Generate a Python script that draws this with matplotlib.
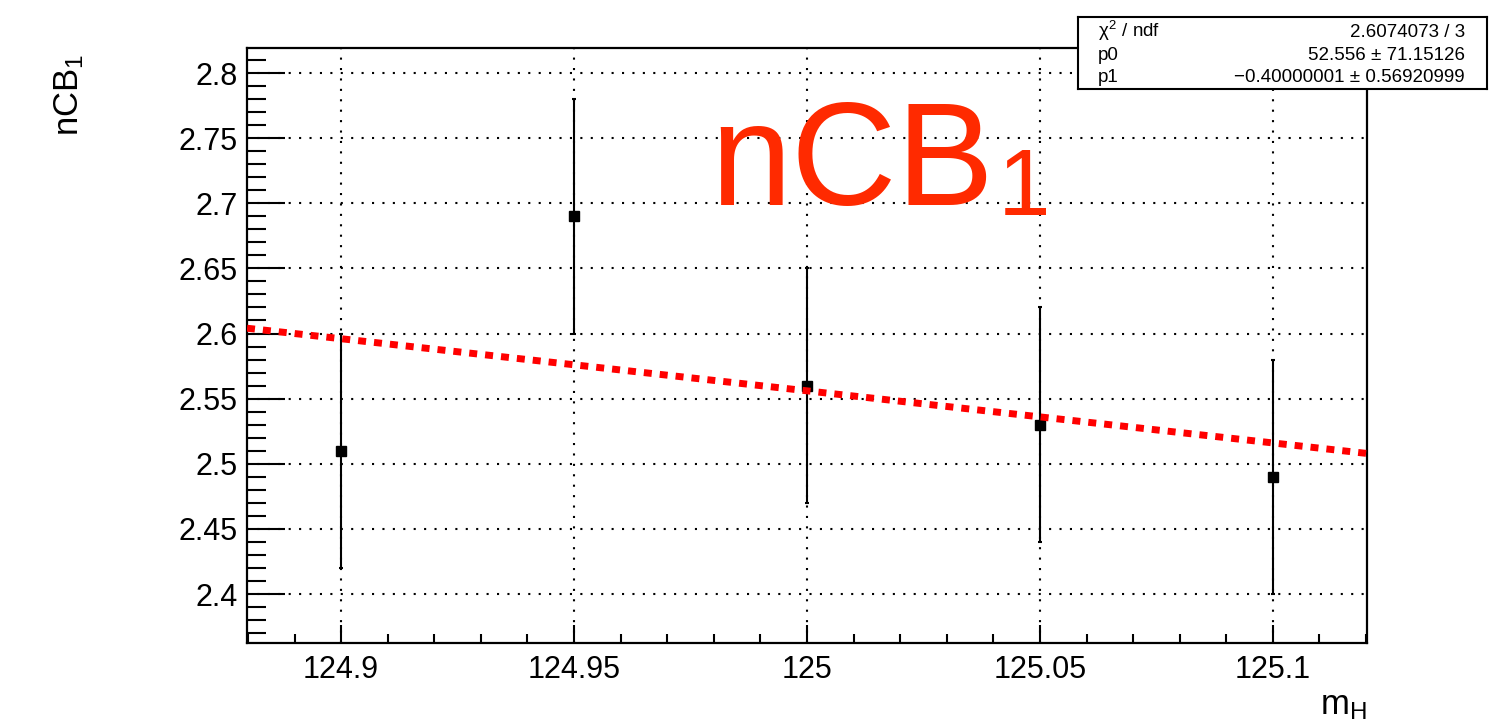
import matplotlib.pyplot as plt
from matplotlib.ticker import MultipleLocator

plt.rcParams['font.family'] = ['Liberation Sans', 'DejaVu Sans']
plt.rcParams['mathtext.fontset'] = 'custom'
plt.rcParams['mathtext.rm'] = 'Liberation Sans'
plt.rcParams['mathtext.it'] = 'Liberation Sans'

# data
mass = [124.9, 124.95, 125.0, 125.05, 125.1]
ncb1 = [2.51, 2.69, 2.56, 2.53, 2.49]
ncb1_err = [0.09, 0.09, 0.09, 0.09, 0.09]

# fit results (pol1)
p0 = 52.556
p1 = -0.40000001
stat_names = [r'$\chi^{2}$ / ndf', 'p0', 'p1']
stat_values = ['2.6074073 / 3', '52.556 \u00b1 71.15126', '\u22120.40000001 \u00b1 0.56920999']

xlim = (124.8798, 125.1202)
ylim = (2.3624, 2.8192)

W, H = 1511, 724
fig = plt.figure(figsize=(W / 100, H / 100), dpi=100)
ax = fig.add_axes([247 / W, 81 / H, 1120 / W, 595 / H])

ax.errorbar(mass, ncb1, yerr=ncb1_err, fmt='s', color='black', ms=7,
            elinewidth=1.5, capsize=1.5, capthick=1.5, zorder=3)

fx = [xlim[0], xlim[1]]
fy = [p0 + p1 * v for v in fx]
ax.plot(fx, fy, color='#ff0000', lw=5, dashes=(1.15, 1.15),
        solid_capstyle='butt', dash_capstyle='butt', zorder=4)

ax.set_xlim(*xlim)
ax.set_ylim(*ylim)
ax.xaxis.set_minor_locator(MultipleLocator(0.01))
ax.yaxis.set_minor_locator(MultipleLocator(0.01))
ax.set_xticks([124.9, 124.95, 125.0, 125.05, 125.1])
ax.set_xticklabels(['124.9', '124.95', '125', '125.05', '125.1'])
ax.set_yticks([2.4, 2.45, 2.5, 2.55, 2.6, 2.65, 2.7, 2.75, 2.8])
ax.set_yticklabels(['2.4', '2.45', '2.5', '2.55', '2.6', '2.65', '2.7', '2.75', '2.8'])

ax.tick_params(axis='both', which='both', direction='in', top=False, right=False,
               labelsize=22, width=1.5)
ax.tick_params(axis='y', which='major', length=27, pad=7)
ax.tick_params(axis='y', which='minor', length=13.5)
ax.tick_params(axis='x', which='major', length=13, pad=9)
ax.tick_params(axis='x', which='minor', length=6.5)

ax.grid(True, which='major', color='black', linestyle=(0, (1, 4)), lw=1.5)
for s in ax.spines.values():
    s.set_linewidth(1.6)

# big red label, subscript drawn as its own text
red = '#ff2a00'
fig.text(710 / W, 1 - 205 / H, 'nCB', fontsize=105, color=red,
         ha='left', va='baseline', zorder=5)
fig.text(998 / W, 1 - 215 / H, '1', fontsize=68, color=red,
         ha='left', va='baseline', zorder=5)

fig.text(69 / W, 1 - 95 / H, r'nCB$_{1}$', rotation=90, fontsize=25,
         ha='center', va='center')
fig.text(1367 / W, 1 - 705 / H, r'm$_{\mathrm{H}}$', fontsize=25,
         ha='right', va='center')

# stats box
bx0, by0, bx1, by1 = 1078, 17, 1487, 89
sb = fig.add_axes([bx0 / W, 1 - by1 / H, (bx1 - bx0) / W, (by1 - by0) / H])
sb.set_xticks([])
sb.set_yticks([])
for s in sb.spines.values():
    s.set_linewidth(1.5)
for n, v, base in zip(stat_names, stat_values, [37, 60, 82]):
    fig.text(1098 / W, 1 - base / H, n, fontsize=13.5, ha='left', va='baseline')
    fig.text(1465 / W, 1 - base / H, v, fontsize=13.5, ha='right', va='baseline')

fig.savefig('out.png', dpi=100)
